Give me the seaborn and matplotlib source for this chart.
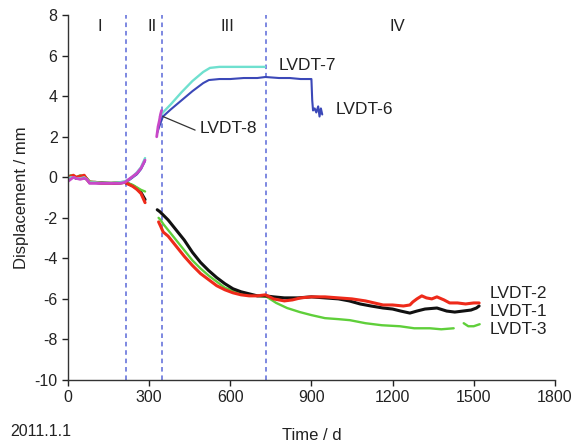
import matplotlib
matplotlib.use("Agg")
import matplotlib.pyplot as plt
import seaborn as sns
import pandas as pd

# ---------------- data ----------------
pre_days = [0, 10, 20, 30, 45, 60, 70, 80, 100, 130, 160, 190, 210, 225, 240, 255, 270, 285]
pre_lvdt1 = [0.0, 0.05, 0.05, -0.05, 0.0, 0.05, -0.1, -0.25, -0.25, -0.28, -0.3, -0.28, -0.25, -0.33, -0.42, -0.55, -0.75, -1.1]
pre_lvdt2 = [0.0, 0.05, 0.1, 0.0, 0.05, 0.1, -0.1, -0.25, -0.25, -0.3, -0.3, -0.28, -0.25, -0.35, -0.45, -0.6, -0.8, -1.25]
pre_lvdt3 = [0.05, 0.1, 0.05, 0.0, 0.1, 0.05, -0.05, -0.2, -0.25, -0.28, -0.28, -0.25, -0.22, -0.3, -0.38, -0.5, -0.62, -0.7]
pre_lvdt6 = [-0.1, -0.05, 0.0, -0.05, -0.05, -0.05, -0.1, -0.25, -0.28, -0.3, -0.3, -0.28, -0.25, -0.15, 0.0, 0.15, 0.4, 0.8]
pre_lvdt7 = [-0.05, 0.0, 0.0, -0.05, -0.05, 0.0, -0.1, -0.25, -0.25, -0.28, -0.28, -0.25, -0.2, -0.1, 0.05, 0.25, 0.5, 0.95]
pre_lvdt8 = [-0.2, -0.1, 0.0, -0.05, -0.1, -0.05, -0.1, -0.3, -0.3, -0.3, -0.3, -0.3, -0.25, -0.1, 0.05, 0.2, 0.45, 0.85]

lvdt1_days = [330, 340, 355, 370, 400, 430, 460, 490, 520, 550, 580, 610, 640, 670, 700, 730, 760, 800, 850, 900,
              950, 1000, 1040, 1080, 1120, 1165, 1200, 1230, 1264, 1290, 1320, 1364, 1400, 1430, 1460, 1490, 1510, 1520]
lvdt1_vals = [-1.6, -1.7, -1.9, -2.1, -2.6, -3.1, -3.7, -4.2, -4.6, -4.95, -5.25, -5.5, -5.65, -5.75, -5.85, -5.85,
              -5.9, -5.95, -5.95, -5.9, -5.95, -6.0, -6.1, -6.25, -6.35, -6.45, -6.5, -6.6, -6.7, -6.6, -6.5, -6.45,
              -6.6, -6.65, -6.6, -6.55, -6.45, -6.35]

lvdt2_days = [335, 342, 352, 370, 400, 430, 460, 490, 520, 550, 580, 610, 640, 670, 700, 730, 760, 800, 830, 860,
              900, 950, 1000, 1050, 1100, 1165, 1200, 1240, 1264, 1275, 1290, 1308, 1325, 1345, 1364, 1390, 1411,
              1440, 1470, 1500, 1520]
lvdt2_vals = [-2.2, -2.4, -2.7, -2.9, -3.4, -3.9, -4.35, -4.75, -5.05, -5.35, -5.55, -5.7, -5.8, -5.85, -5.85, -5.8,
              -6.0, -6.1, -6.05, -5.95, -5.9, -5.9, -5.95, -6.0, -6.1, -6.3, -6.3, -6.35, -6.3, -6.15, -6.0, -5.85,
              -5.95, -6.0, -5.9, -6.05, -6.2, -6.2, -6.25, -6.2, -6.2]

lvdt3_days = [335, 342, 352, 370, 400, 430, 460, 490, 520, 550, 580, 610, 640, 670, 700, 735, 770, 810, 857, 900,
              950, 1000, 1042, 1100, 1160, 1227, 1280, 1338, 1380, 1426]
lvdt3_vals = [-2.0, -2.1, -2.3, -2.6, -3.1, -3.6, -4.1, -4.5, -4.85, -5.15, -5.45, -5.6, -5.75, -5.8, -5.85, -5.9,
              -6.2, -6.45, -6.65, -6.8, -6.95, -7.0, -7.05, -7.2, -7.3, -7.35, -7.45, -7.45, -7.5, -7.45]
lvdt3b_days = [1463, 1480, 1500, 1522]
lvdt3b_vals = [-7.2, -7.35, -7.35, -7.25]

lvdt7_days = [340, 351, 380, 420, 460, 500, 525, 560, 600, 650, 700, 728]
lvdt7_vals = [3.0, 3.2, 3.6, 4.2, 4.75, 5.2, 5.4, 5.45, 5.45, 5.45, 5.45, 5.45]

lvdt6_days = [330, 340, 351, 380, 420, 460, 500, 521, 560, 600, 650, 700, 730, 780, 820, 860, 895, 900, 903, 906,
              912, 918, 925, 930, 935, 940]
lvdt6_vals = [2.2, 2.6, 3.0, 3.35, 3.8, 4.25, 4.65, 4.8, 4.85, 4.85, 4.9, 4.9, 4.95, 4.9, 4.9, 4.85, 4.85, 4.85,
              3.8, 3.3, 3.4, 3.2, 3.5, 3.0, 3.4, 3.1]

lvdt8_days = [328, 333, 338, 342, 346]
lvdt8_vals = [2.0, 2.5, 2.8, 3.1, 3.3]

stage_bounds = [216, 346, 731]
stage_names = ["I", "II", "III", "IV"]
stage_label_days = [118, 310, 591, 1216]

x_ticks = [0, 300, 600, 900, 1200, 1500, 1800]
y_ticks = [8, 6, 4, 2, 0, -2, -4, -6, -8, -10]

colors = {
    "LVDT-1": "#111111",
    "LVDT-2": "#ee2a1a",
    "LVDT-3": "#5fcf3a",
    "LVDT-6": "#3b48b8",
    "LVDT-7": "#6fe0cf",
    "LVDT-8": "#c848c8",
}
widths = {"LVDT-1": 2.2, "LVDT-2": 2.2, "LVDT-3": 1.7, "LVDT-6": 1.5, "LVDT-7": 1.7, "LVDT-8": 2.0}

segments = [
    ("LVDT-1", pre_days, pre_lvdt1), ("LVDT-6", pre_days, pre_lvdt6),
    ("LVDT-3", pre_days, pre_lvdt3), ("LVDT-2", pre_days, pre_lvdt2),
    ("LVDT-7", pre_days, pre_lvdt7), ("LVDT-8", pre_days, pre_lvdt8),
    ("LVDT-3", lvdt3_days, lvdt3_vals), ("LVDT-3", lvdt3b_days, lvdt3b_vals),
    ("LVDT-1", lvdt1_days, lvdt1_vals), ("LVDT-2", lvdt2_days, lvdt2_vals),
    ("LVDT-7", lvdt7_days, lvdt7_vals), ("LVDT-6", lvdt6_days, lvdt6_vals),
    ("LVDT-8", lvdt8_days, lvdt8_vals),
]

# ---------------- plot ----------------
sns.set_style("ticks")
plt.rcParams["font.family"] = ["Liberation Sans", "DejaVu Sans"]
plt.rcParams["axes.unicode_minus"] = False

fig = plt.figure(figsize=(5.81, 4.47), dpi=100)
ax = fig.add_axes([0.117, 0.150, 0.838, 0.816])

for name, d, v in segments:
    df = pd.DataFrame({"day": d, "disp": v})
    sns.lineplot(data=df, x="day", y="disp", color=colors[name], lw=widths[name],
                 estimator=None, sort=False, ax=ax, legend=False)

for b in stage_bounds:
    ax.axvline(b, color="#5a68d8", lw=1.1, ls=(0, (3, 2.5)), zorder=0)

for name, d in zip(stage_names, stage_label_days):
    ax.text(d, 7.45, name, ha="center", va="center", fontsize=12, color="#222222")

lab_kw = dict(fontsize=12.5, color="#222222", va="center", ha="left")
ax.text(780, 5.53, "LVDT-7", **lab_kw)
ax.text(990, 3.36, "LVDT-6", **lab_kw)
ax.text(488, 2.43, "LVDT-8", **lab_kw)
ax.plot([351, 470], [3.0, 2.33], color="#333333", lw=0.9)
ax.text(1560, -5.75, "LVDT-2", **lab_kw)
ax.text(1560, -6.6, "LVDT-1", **lab_kw)
ax.text(1560, -7.5, "LVDT-3", **lab_kw)

ax.set_xlim(0, 1800)
ax.set_ylim(-10, 8)
ax.set_xticks(x_ticks)
ax.set_yticks(y_ticks)
ax.tick_params(labelsize=11.5, direction="out", length=4, width=1, colors="#222222")
ax.set_xlabel("Time / d", fontsize=12, color="#222222", labelpad=16)
ax.set_ylabel("Displacement / mm", fontsize=12, color="#222222", labelpad=4)
sns.despine(ax=ax)
for s in ["left", "bottom"]:
    ax.spines[s].set_color("#333333")
    ax.spines[s].set_linewidth(1.0)

fig.text(0.017, 0.034, "2011.1.1", fontsize=11.5, color="#222222", va="center", ha="left")

fig.savefig("out.png", dpi=100)
